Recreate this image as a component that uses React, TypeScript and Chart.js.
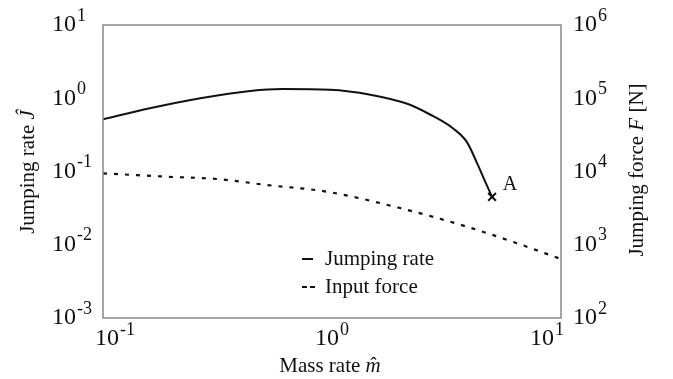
import React, { useEffect, useRef } from "react";
import { Chart, registerables } from "chart.js";

Chart.register(...registerables);

// Jumping rate Ĵ vs mass rate m̂ (left axis)
const massRateJump = [0.1, 0.16, 0.266, 0.439, 0.611, 0.98, 1.47, 2.13, 2.68, 3.37, 3.89, 4.3, 4.75, 5.0];
const jumpingRate = [0.516, 0.729, 1.0, 1.26, 1.34, 1.31, 1.12, 0.84, 0.6, 0.39, 0.25, 0.13, 0.064, 0.045];

// Input force F [N] vs mass rate (right axis)
const massRateForce = [0.1, 0.19, 0.315, 0.52, 0.95, 1.98, 3.89, 6.43, 10];
const inputForce = [9440, 8490, 7900, 6540, 5300, 3170, 1760, 1047, 638];

// Tick exponents (labels are 10^n)
const xTickExps = [-1, 0, 1];
const yTickExps = [-3, -2, -1, 0, 1];
const y2TickExps = [2, 3, 4, 5, 6];

const seriesLabels = ["Jumping rate", "Input force"];
const pointLabel = "A";

const FONT = "'Liberation Serif', 'Times New Roman', serif";

function drawPow(ctx: CanvasRenderingContext2D, x: number, y: number, exp: number, align: string) {
  const base = "10";
  const e = String(exp);
  ctx.font = `24px ${FONT}`;
  const wb = ctx.measureText(base).width;
  ctx.font = `18px ${FONT}`;
  const we = ctx.measureText(e).width;
  const total = wb + we + 1;
  let sx = x;
  if (align === "center") sx = x - total / 2;
  if (align === "right") sx = x - total;
  ctx.textAlign = "left";
  ctx.textBaseline = "middle";
  ctx.font = `24px ${FONT}`;
  ctx.fillText(base, sx, y);
  ctx.font = `18px ${FONT}`;
  ctx.fillText(e, sx + wb + 1, y - 9);
}

const customPlugin = {
  id: "custom",
  afterDraw(chart: any) {
    const ctx: CanvasRenderingContext2D = chart.ctx;
    const { left, right, top, bottom } = chart.chartArea;
    ctx.save();
    // frame
    ctx.strokeStyle = "#888";
    ctx.lineWidth = 1.5;
    ctx.strokeRect(left, top, right - left, bottom - top);

    ctx.fillStyle = "#111";
    // x ticks
    const xs = chart.scales.x;
    xTickExps.forEach((e, i) => {
      const px = xs.getPixelForValue(Math.pow(10, e));
      let align = "center";
      let ax = px;
      if (i === 0) { align = "left"; ax = px - 8; }
      if (i === xTickExps.length - 1) { align = "right"; ax = px + 3; }
      drawPow(ctx, ax, bottom + 21, e, align);
    });
    // left ticks
    const ys = chart.scales.y;
    yTickExps.forEach((e) => {
      const py = ys.getPixelForValue(Math.pow(10, e));
      drawPow(ctx, 52, py, e, "left");
    });
    // right ticks
    const y2 = chart.scales.y2;
    y2TickExps.forEach((e) => {
      const py = y2.getPixelForValue(Math.pow(10, e));
      drawPow(ctx, right + 12, py, e, "left");
    });

    // x title
    ctx.textBaseline = "middle";
    const t1 = "Mass rate ";
    ctx.font = `21px ${FONT}`;
    const w1 = ctx.measureText(t1).width;
    ctx.font = `italic 21px ${FONT}`;
    const w2 = ctx.measureText("m\u0302").width;
    const cx = (left + right) / 2 - 2;
    const sx = cx - (w1 + w2) / 2;
    ctx.textAlign = "left";
    ctx.font = `21px ${FONT}`;
    ctx.fillText(t1, sx, 366);
    ctx.font = `italic 21px ${FONT}`;
    ctx.fillText("m\u0302", sx + w1, 366);

    // rotated titles
    const drawRot = (parts: [string, boolean][], x: number, y: number) => {
      ctx.save();
      ctx.translate(x, y);
      ctx.rotate(-Math.PI / 2);
      let tw = 0;
      parts.forEach(([s, it]) => {
        ctx.font = `${it ? "italic " : ""}21px ${FONT}`;
        tw += ctx.measureText(s).width;
      });
      let cxp = -tw / 2;
      ctx.textAlign = "left";
      ctx.textBaseline = "middle";
      parts.forEach(([s, it]) => {
        ctx.font = `${it ? "italic " : ""}21px ${FONT}`;
        ctx.fillText(s, cxp, 0);
        cxp += ctx.measureText(s).width;
      });
      ctx.restore();
    };
    drawRot([["Jumping rate ", false], ["\u0134", true]], 28, 172);
    drawRot([["Jumping force ", false], ["F", true], [" [N]", false]], 637, 170);

    // legend
    const lx = 302;
    const ly = [259, 287];
    ctx.strokeStyle = "#111";
    ctx.lineWidth = 2;
    ctx.setLineDash([]);
    ctx.beginPath();
    ctx.moveTo(lx, ly[0]);
    ctx.lineTo(lx + 11, ly[0]);
    ctx.stroke();
    ctx.setLineDash([5, 3]);
    ctx.beginPath();
    ctx.moveTo(lx, ly[1]);
    ctx.lineTo(lx + 14, ly[1]);
    ctx.stroke();
    ctx.setLineDash([]);
    ctx.font = `21px ${FONT}`;
    ctx.textAlign = "left";
    ctx.textBaseline = "middle";
    seriesLabels.forEach((s, i) => ctx.fillText(s, lx + 23, ly[i]));

    // point label A
    const meta = chart.getDatasetMeta(0);
    const last = meta.data[meta.data.length - 1];
    ctx.font = `20px ${FONT}`;
    ctx.textAlign = "center";
    ctx.fillText(pointLabel, last.x + 18, last.y - 12);
    ctx.restore();
  },
};

export default function App() {
  const ref = useRef<HTMLCanvasElement | null>(null);
  useEffect(() => {
    if (!ref.current) return;
    const lastIdx = massRateJump.length - 1;
    const chart = new Chart(ref.current, {
      type: "line",
      data: {
        datasets: [
          {
            label: seriesLabels[0],
            data: massRateJump.map((x, i) => ({ x, y: jumpingRate[i] })),
            yAxisID: "y",
            borderColor: "#111",
            backgroundColor: "#111",
            borderWidth: 2,
            cubicInterpolationMode: "monotone",
            pointStyle: "crossRot",
            pointRadius: (c: any) => (c.dataIndex === lastIdx ? 5.5 : 0),
            pointBorderWidth: 2,
            pointBorderColor: "#111",
          },
          {
            label: seriesLabels[1],
            data: massRateForce.map((x, i) => ({ x, y: inputForce[i] })),
            yAxisID: "y2",
            borderColor: "#111",
            borderWidth: 2.2,
            borderDash: [4, 7],
            cubicInterpolationMode: "monotone",
            pointRadius: 0,
          },
        ],
      },
      options: {
        animation: false,
        responsive: true,
        maintainAspectRatio: false,
        layout: { padding: { top: 25, left: 0, right: 0, bottom: 0 } },
        plugins: { legend: { display: false }, tooltip: { enabled: false } },
        scales: {
          x: {
            type: "logarithmic",
            min: 0.1,
            max: 10,
            grid: { display: false },
            border: { display: false },
            ticks: { display: false },
            afterFit: (s: any) => { s.height = 61; },
          },
          y: {
            type: "logarithmic",
            position: "left",
            min: 1e-3,
            max: 10,
            grid: { display: false },
            border: { display: false },
            ticks: { display: false },
            afterFit: (s: any) => { s.width = 103; },
          },
          y2: {
            type: "logarithmic",
            position: "right",
            min: 1e2,
            max: 1e6,
            grid: { display: false },
            border: { display: false },
            ticks: { display: false },
            afterFit: (s: any) => { s.width = 112; },
          },
        },
      } as any,
      plugins: [customPlugin],
    });
    return () => chart.destroy();
  }, []);
  return (
    <div style={{ position: "absolute", left: 0, top: 0, width: 673, height: 379, background: "#fff" }}>
      <canvas ref={ref} />
    </div>
  );
}
